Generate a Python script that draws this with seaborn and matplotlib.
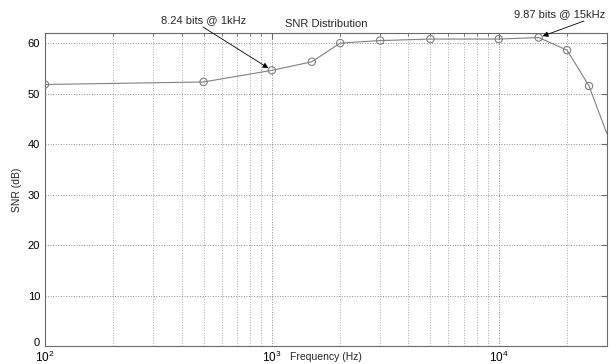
import matplotlib
matplotlib.use("Agg")
import matplotlib.pyplot as plt
import matplotlib.transforms as mtransforms
import seaborn as sns
import pandas as pd
import numpy as np
from matplotlib.ticker import LogLocator, NullFormatter

# Data
freq_hz = [100, 500, 1000, 1500, 2000, 3000, 5000, 10000, 15000, 20000, 25000, 30000]
snr_db = [51.8, 52.3, 54.6, 56.3, 60.0, 60.5, 60.8, 60.8, 61.1, 58.6, 51.5, 42.0]
n_marked = 11  # last value is the curve's end at the axis edge (no marker)

title = "SNR Distribution"
xlabel = "Frequency (Hz)"
ylabel = "SNR (dB)"
note1 = "8.24 bits @ 1kHz"
note2 = "9.87 bits @ 15kHz"
yticks = [0, 10, 20, 30, 40, 50, 60]

sns.set_style("white")
plt.rcParams['font.family'] = ['Liberation Sans', 'DejaVu Sans']
plt.rcParams['mathtext.fontset'] = 'custom'
plt.rcParams['mathtext.rm'] = 'Liberation Sans'

df = pd.DataFrame({"f": freq_hz, "snr": snr_db})
dfm = df.iloc[:n_marked]

fig = plt.figure(figsize=(6.13, 3.64), dpi=100)
ax = fig.add_axes([45/613, 1-346/364, (607-45)/613, (346-33)/364])

grey = "#808080"
sns.lineplot(data=df, x="f", y="snr", ax=ax, color=grey, lw=0.8, zorder=3)
sns.scatterplot(data=dfm, x="f", y="snr", ax=ax, s=28, marker="o",
                facecolor="none", edgecolor=grey, linewidth=0.8, zorder=4)

ax.set_xscale("log")
ax.set_xlim(100, 30000)
ax.set_ylim(0, 62)
ax.set_yticks(yticks)
ax.xaxis.set_major_locator(LogLocator(base=10, numticks=10))
ax.xaxis.set_minor_locator(LogLocator(base=10, subs=np.arange(2, 10), numticks=20))
ax.xaxis.set_minor_formatter(NullFormatter())

ax.grid(True, which="major", axis="both", ls=":", color="#8c8c8c", lw=0.7)
ax.grid(True, which="minor", axis="x", ls=":", color="#a8a8a8", lw=0.7)
ax.set_axisbelow(True)

for s in ax.spines.values():
    s.set_color("#6a6a6a")
    s.set_linewidth(0.8)
ax.tick_params(which="both", direction="in", top=True, right=True,
               colors="#6a6a6a", labelcolor="black", labelsize=8)
ax.tick_params(which="major", length=4)
ax.tick_params(which="minor", length=2)
ax.tick_params(axis="x", which="major", labelsize=8.5, pad=3)

# nudge the "0" label up a little so it does not collide with 10^2
fig.canvas.draw()
shift = mtransforms.ScaledTranslation(0, 3/72, fig.dpi_scale_trans)
for lbl in ax.get_yticklabels():
    if lbl.get_text() in ("0", "\u22120"):
        lbl.set_transform(lbl.get_transform() + shift)

ax.set_xlabel(xlabel, fontsize=7.5)
ax.xaxis.label.set_va("center")
ax.xaxis.set_label_coords(0.5, -11.5/313)
ax.set_ylabel(ylabel, fontsize=7.5, labelpad=4)
ax.set_title(title, fontsize=8, pad=4)

fig.text(204/613, 1-20/364, note1, fontsize=8, ha="center", va="center")
fig.text(560/613, 1-14/364, note2, fontsize=8, ha="center", va="center")

arrow = dict(arrowstyle="-|>", color="black", lw=0.6, mutation_scale=8,
             shrinkA=0, shrinkB=3)
ax.annotate("", xy=(freq_hz[2], snr_db[2]), xycoords="data",
            xytext=(203, 364-27), textcoords="figure pixels", arrowprops=arrow)
ax.annotate("", xy=(freq_hz[8], snr_db[8]), xycoords="data",
            xytext=(584, 364-21), textcoords="figure pixels", arrowprops=arrow)

fig.savefig("out.png", dpi=100)
